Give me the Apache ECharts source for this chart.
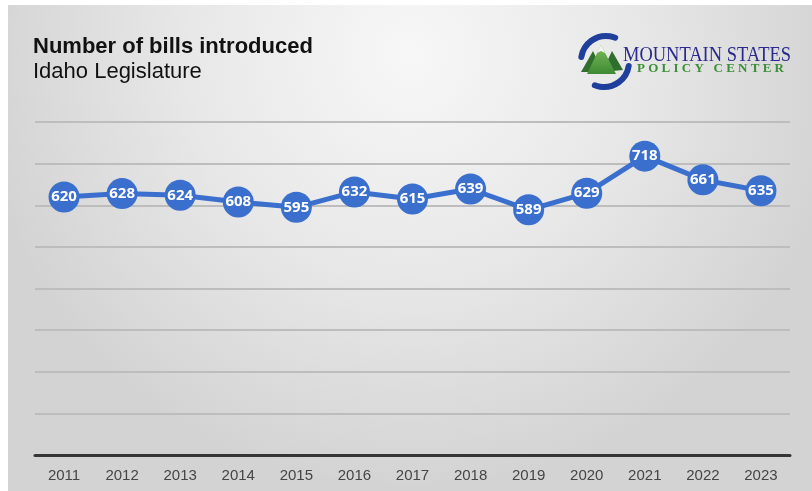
<!DOCTYPE html>
<html>
<head>
<meta charset="utf-8">
<style>
  html, body { margin: 0; padding: 0; background: #ffffff; }
  #chart { width: 812px; height: 491px; }
</style>
<script src="https://cdn.jsdelivr.net/npm/echarts@6/dist/echarts.min.js"></script>
</head>
<body>
<div id="chart"></div>
<script>
// Bills introduced in the Idaho Legislature, per session year
const years = ['2011', '2012', '2013', '2014', '2015', '2016', '2017', '2018', '2019', '2020', '2021', '2022', '2023'];
const billsIntroduced = [620, 628, 624, 608, 595, 632, 615, 639, 589, 629, 718, 661, 635];
const yMin = 0;
const yMax = 800;
const yStep = 100;

const blue = '#3a6fcd';
const chart = echarts.init(document.getElementById('chart'), null, { renderer: 'canvas' });

chart.setOption({
  backgroundColor: '#ffffff',
  animation: false,
  grid: { left: 35, right: 22, top: 122, bottom: 36, containLabel: false },
  xAxis: {
    type: 'category',
    data: years,
    boundaryGap: true,
    axisLine: { lineStyle: { color: '#363636', width: 3 } },
    axisTick: { show: false },
    axisLabel: {
      color: '#454545',
      fontFamily: '"Liberation Sans Narrow", "Liberation Sans", Arial, sans-serif',
      fontSize: 15,
      margin: 13
    },
    splitLine: { show: false }
  },
  yAxis: {
    type: 'value',
    min: yMin,
    max: yMax,
    interval: yStep,
    axisLine: { show: false },
    axisTick: { show: false },
    axisLabel: { show: false },
    splitLine: { lineStyle: { color: '#bdbdbd', width: 1.8 } }
  },
  graphic: [
    // soft grey backdrop with a lighter patch near the top centre
    {
      type: 'rect',
      z: -10,
      silent: true,
      shape: { x: 8, y: 5, width: 804, height: 486 },
      style: {
        fill: new echarts.graphic.RadialGradient(0.5, 0.1, 0.9, [
          { offset: 0, color: '#f7f7f7' },
          { offset: 0.5, color: '#e8e8e8' },
          { offset: 1, color: '#d3d3d3' }
        ])
      }
    },
    {
      type: 'text',
      x: 33,
      y: 47,
      style: {
        text: 'Number of bills introduced',
        fill: '#111111',
        textVerticalAlign: 'middle',
        font: 'bold 22px "Liberation Sans", Arial, sans-serif'
      }
    },
    {
      type: 'text',
      x: 33,
      y: 72,
      style: {
        text: 'Idaho Legislature',
        fill: '#111111',
        textVerticalAlign: 'middle',
        font: '22px "Liberation Sans", Arial, sans-serif'
      }
    },
    // logo mark: blue swooshes around green peaks
    {
      type: 'group',
      silent: true,
      children: [
        {
          type: 'arc',
          shape: { cx: 606, cy: 61, r: 25, startAngle: Math.PI * 1.05, endAngle: Math.PI * 1.62 },
          style: { stroke: '#1f3f9c', lineWidth: 6, fill: null, lineCap: 'round' }
        },
        {
          type: 'arc',
          shape: { cx: 604, cy: 62, r: 25, startAngle: Math.PI * 0.05, endAngle: Math.PI * 0.62 },
          style: { stroke: '#1f3f9c', lineWidth: 6, fill: null, lineCap: 'round' }
        },
        {
          type: 'polygon',
          shape: { points: [[593, 51], [581, 72], [603, 72]] },
          style: { fill: '#2f6e2c' }
        },
        {
          type: 'polygon',
          shape: { points: [[612, 51], [602, 72], [623, 70]] },
          style: { fill: '#2f6e2c' }
        },
        {
          type: 'polygon',
          shape: { points: [[601, 45], [587, 74], [616, 74]] },
          style: {
            fill: new echarts.graphic.LinearGradient(0, 0, 0, 1, [
              { offset: 0, color: '#7dbb5c' },
              { offset: 1, color: '#3f8a34' }
            ])
          }
        },
        {
          type: 'polygon',
          shape: { points: [[601, 45], [597, 53], [601, 51], [605, 53]] },
          style: { fill: '#f2f7ee' }
        }
      ]
    },
    {
      type: 'text',
      x: 623,
      y: 55,
      scaleX: 0.84,
      style: {
        text: 'MOUNTAIN STATES',
        fill: '#2a2a8e',
        textVerticalAlign: 'middle',
        font: '22px "Liberation Serif", "DejaVu Serif", serif'
      }
    },
    {
      type: 'text',
      x: 637,
      y: 69,
      style: {
        text: 'P O L I C Y   C E N T E R',
        fill: '#3b8f37',
        textVerticalAlign: 'middle',
        font: 'bold 13px "Liberation Serif", "DejaVu Serif", serif'
      }
    }
  ],
  series: [
    {
      type: 'line',
      data: billsIntroduced,
      symbol: 'circle',
      symbolSize: 31,
      lineStyle: { color: blue, width: 5 },
      itemStyle: { color: blue, borderColor: blue, borderWidth: 0 },
      label: {
        show: true,
        position: 'inside',
        color: '#ffffff',
        fontWeight: 'bold',
        fontSize: 15,
        fontFamily: '"Open Sans", "Liberation Sans", Arial, sans-serif'
      },
      z: 3
    }
  ]
});
</script>
</body>
</html>
